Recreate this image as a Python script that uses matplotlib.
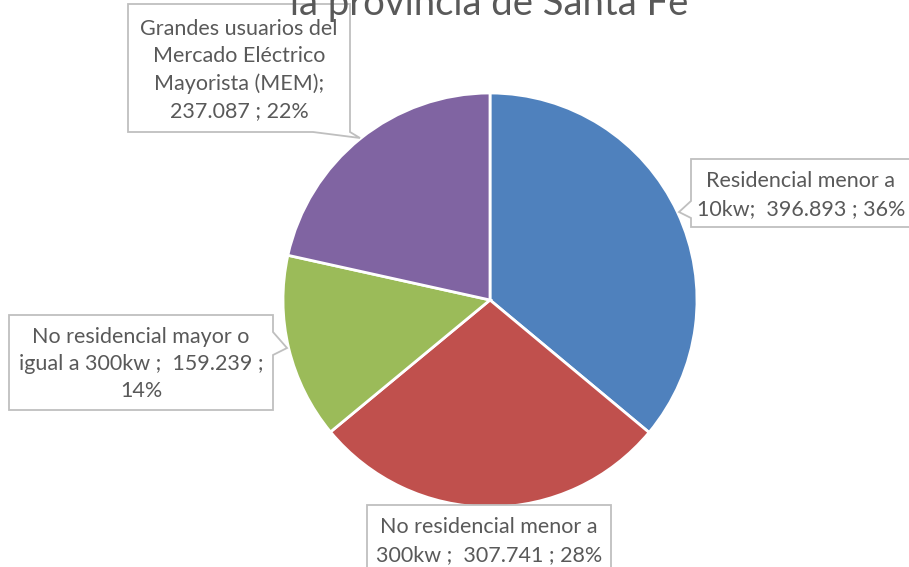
import matplotlib.pyplot as plt
from matplotlib.patches import Polygon

# consumo por categoria de usuario (MWh)
categories = [
    "Residencial menor a 10kw",
    "No residencial menor a 300kw",
    "No residencial mayor o igual a 300kw",
    "Grandes usuarios del Mercado Eléctrico Mayorista (MEM)",
]
values = [396893, 307741, 159239, 237087]
colors = ["#4F81BD", "#C0504D", "#9BBB59", "#8064A2"]

# how each data label is broken into lines in the original
label_templates = [
    "Residencial menor a\n10kw;  {v} ; {p}%",
    "No residencial menor a\n300kw ;  {v} ; {p}%",
    "No residencial mayor o\nigual a 300kw ;  {v} ;\n{p}%",
    "Grandes usuarios del\nMercado Eléctrico\nMayorista (MEM);\n{v} ; {p}%",
]

W, H = 909, 567
TEXT = "#595959"
EDGE = "#BFBFBF"
plt.rcParams["font.family"] = ["Lato", "DejaVu Sans"]


def fmt(v):
    return f"{v:,}".replace(",", ".")


def flip(pts):
    return [(x, H - y) for x, y in pts]


fig = plt.figure(figsize=(W / 100, H / 100), dpi=100)
ax = fig.add_axes([0, 0, 1, 1])

ax.pie(values, colors=colors, startangle=90, counterclock=False,
       center=(490, H - 300), radius=207,
       wedgeprops=dict(edgecolor="white", linewidth=2))
ax.set_xlim(0, W)
ax.set_ylim(0, H)
ax.set_aspect("auto")
ax.axis("off")

total = sum(values)
labels = [t.format(v=fmt(v), p=round(100 * v / total))
          for t, v in zip(label_templates, values)]

# callout boxes (pixel outline incl. pointer) and text centre
callouts = [
    ([(691, 159), (915, 159), (915, 227), (691, 227), (691, 218),
      (679, 212), (691, 201)], (801, 195)),
    ([(367, 505), (611, 505), (611, 600), (367, 600)], (489, 541)),
    ([(9, 315), (273, 315), (273, 332), (287, 348), (273, 355),
      (273, 410), (9, 410)], (141, 364)),
    ([(128, 4), (350, 4), (350, 132), (360, 138), (313, 132),
      (128, 132)], (239, 70)),
]

for lab, (outline, (tx, ty)) in zip(labels, callouts):
    ax.add_patch(Polygon(flip(outline), closed=True, facecolor="white",
                         edgecolor=EDGE, linewidth=1.3, zorder=3))
    ax.text(tx, H - ty, lab, ha="center", va="center", fontsize=15.5,
            color=TEXT, linespacing=1.45, zorder=4)

ax.text(489.5, H - 15, "la provincia de Santa Fe", ha="center",
        va="baseline", fontsize=27.5, color=TEXT, zorder=5)

fig.savefig("out.png", dpi=100)
